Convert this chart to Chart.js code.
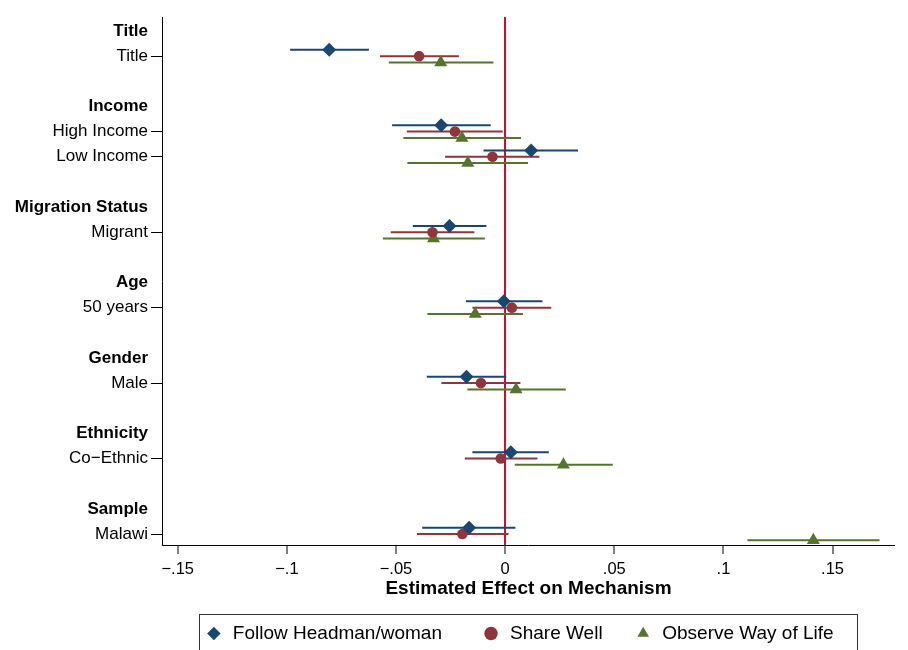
<!DOCTYPE html>
<html>
<head>
<meta charset="utf-8">
<script src="https://cdn.jsdelivr.net/npm/chart.js@4.4.0/dist/chart.umd.min.js"></script>
<style>
  body { margin: 0; background: #fff; }
</style>
</head>
<body>
<canvas id="coefChart" width="908" height="650"></canvas>
<script>
// y rows: group headers (bold) and the estimate rows under them
const rowLabels = [
  "Title", "Title", "",
  "Income", "High Income", "Low Income", "",
  "Migration Status", "Migrant", "",
  "Age", "50 years", "",
  "Gender", "Male", "",
  "Ethnicity", "Co\u2212Ethnic", "",
  "Sample", "Malawi",
];
const headerRows = [0, 3, 7, 10, 13, 16, 19];
const estRows = [1, 4, 5, 8, 11, 14, 17, 20];

const xTicks = [-0.15, -0.1, -0.05, 0, 0.05, 0.1, 0.15];
const xTickLabels = ["\u2212.15", "\u2212.1", "\u2212.05", "0", ".05", ".1", ".15"];

const seriesNames = ["Follow Headman/woman", "Share Well", "Observe Way of Life"];

// Follow Headman/woman
const headmanEst = [-0.0806, -0.0293, 0.0119, -0.0255, -0.0006, -0.0177, 0.0026, -0.0165];
const headmanLo = [-0.0985, -0.0518, -0.0099, -0.0423, -0.0180, -0.0359, -0.0150, -0.0380];
const headmanHi = [-0.0624, -0.0066, 0.0334, -0.0086, 0.0171, 0.0005, 0.0200, 0.0047];

// Share Well
const shareEst = [-0.0394, -0.0230, -0.0058, -0.0333, 0.0031, -0.0111, -0.0020, -0.0196];
const shareLo = [-0.0573, -0.0450, -0.0275, -0.0524, -0.0150, -0.0292, -0.0185, -0.0404];
const shareHi = [-0.0212, -0.0011, 0.0157, -0.0141, 0.0211, 0.0070, 0.0148, 0.0015];

// Observe Way of Life
const observeEst = [-0.0295, -0.0198, -0.0171, -0.0328, -0.0137, 0.0050, 0.0267, 0.1412];
const observeLo = [-0.0533, -0.0466, -0.0448, -0.0560, -0.0356, -0.0173, 0.0044, 0.1110];
const observeHi = [-0.0054, 0.0073, 0.0105, -0.0093, 0.0082, 0.0278, 0.0493, 0.1715];

const BLUE = "#1a476f";
const RED = "#90353b";
const GREEN = "#55752f";
const ZERO_LINE = "#c8102e";
const FONT = "'Liberation Sans', Arial, Helvetica, sans-serif";

const pointData = (est, shift) => estRows.map((r, i) => ({ x: est[i], y: r + shift }));
const ciData = (lo, hi, shift) =>
  estRows.flatMap((r, i) => [
    { x: lo[i], y: r + shift },
    { x: hi[i], y: r + shift },
    { x: null, y: null },
  ]);

const markerSet = (label, est, shift, color, style, radius) => ({
  type: "scatter",
  label: label,
  data: pointData(est, shift),
  pointStyle: style,
  pointRadius: radius,
  pointHoverRadius: radius,
  backgroundColor: color,
  borderColor: color,
  borderWidth: 0,
  order: 0,
});

const ciSet = (label, lo, hi, shift, color) => ({
  type: "scatter",
  label: label + " CI",
  data: ciData(lo, hi, shift),
  showLine: true,
  spanGaps: false,
  pointRadius: 0,
  pointHoverRadius: 0,
  borderColor: color,
  borderWidth: 2,
  order: 1,
});

// draws the frame around the legend, like Stata's legend box
const legendFrame = {
  id: "legendFrame",
  afterDraw(chart) {
    const ctx = chart.ctx;
    const lg = chart.legend;
    const left = Math.round(chart.chartArea.left + 37) + 0.5;
    ctx.save();
    ctx.strokeStyle = "#333";
    ctx.lineWidth = 1;
    ctx.strokeRect(left, Math.round(lg.top) + 0.5, 658, 60);
    ctx.restore();
  },
};

const legendPad = ["\u2003  ", "    ", "\u2003"];

new Chart(document.getElementById("coefChart"), {
  type: "scatter",
  data: {
    datasets: [
      markerSet(seriesNames[0], headmanEst, -0.25, BLUE, "rectRot", 7),
      markerSet(seriesNames[1], shareEst, 0, RED, "circle", 5.3),
      markerSet(seriesNames[2], observeEst, 0.25, GREEN, "triangle", 7.5),
      ciSet(seriesNames[0], headmanLo, headmanHi, -0.25, BLUE),
      ciSet(seriesNames[1], shareLo, shareHi, 0, RED),
      ciSet(seriesNames[2], observeLo, observeHi, 0.25, GREEN),
    ],
  },
  options: {
    responsive: false,
    animation: false,
    layout: {
      padding: { top: 17, right: 13, bottom: -3, left: 0 },
    },
    plugins: {
      tooltip: { enabled: false },
      legend: {
        position: "bottom",
        fullSize: false,
        labels: {
          usePointStyle: true,
          boxWidth: 19,
          boxHeight: 9.5,
          padding: 10,
          color: "#000",
          font: { family: FONT, size: 19 },
          generateLabels: (chart) =>
            Chart.defaults.plugins.legend.labels
              .generateLabels(chart)
              .filter((item) => item.datasetIndex < 3)
              .map((item) => ({ ...item, text: item.text + legendPad[item.datasetIndex] })),
        },
      },
    },
    scales: {
      x: {
        type: "linear",
        min: -0.1572,
        max: 0.1786,
        afterBuildTicks: (scale) => {
          scale.ticks = xTicks.map((v) => ({ value: v }));
        },
        afterFit: (scale) => {
          scale.height = 69;
        },
        ticks: {
          callback: (value, index) => xTickLabels[index],
          color: "#000",
          padding: 6,
          maxRotation: 0,
          autoSkip: false,
          font: { family: FONT, size: 16.5 },
        },
        grid: {
          color: (ctx) => (ctx.tick && ctx.tick.value === 0 ? ZERO_LINE : "rgba(0,0,0,0)"),
          lineWidth: (ctx) => (ctx.tick && ctx.tick.value === 0 ? 2 : 0),
          tickColor: "#000",
          tickWidth: 1,
          tickLength: 9,
        },
        border: { display: true, color: "#000", width: 1 },
        title: {
          display: true,
          text: "Estimated Effect on Mechanism",
          color: "#000",
          font: { family: FONT, size: 19, weight: "bold" },
          padding: { top: 0, bottom: 14 },
        },
      },
      y: {
        type: "linear",
        reverse: true,
        min: -0.557,
        max: 20.437,
        afterBuildTicks: (scale) => {
          scale.ticks = rowLabels.map((_, i) => ({ value: i }));
        },
        afterFit: (scale) => {
          scale.width = 162;
        },
        ticks: {
          callback: (value, index) => rowLabels[index],
          color: "#000",
          padding: 3,
          autoSkip: false,
          font: (ctx) => ({
            family: FONT,
            size: 17,
            weight: headerRows.includes(ctx.index) ? "bold" : "normal",
          }),
        },
        grid: {
          drawOnChartArea: false,
          tickLength: 11,
          tickWidth: 1,
          tickColor: (ctx) => (estRows.includes(ctx.index) ? "#000" : "rgba(0,0,0,0)"),
        },
        border: { display: true, color: "#000", width: 1 },
      },
    },
  },
  plugins: [legendFrame],
});
</script>
</body>
</html>
